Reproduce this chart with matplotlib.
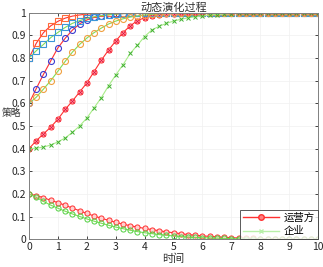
import numpy as np
import matplotlib.pyplot as plt
from matplotlib.lines import Line2D

plt.rcParams['font.family'] = ['Noto Sans CJK SC', 'DejaVu Sans']

# time grid (ode output points)
t = np.arange(0, 10.001, 0.25)

# operator side (red lines)
op_08 = [0.800, 0.865, 0.912, 0.942, 0.962, 0.976, 0.985, 0.990, 0.994, 0.996, 0.998, 0.999,
         1, 1, 1, 1, 1, 1, 1, 1, 1, 1, 1, 1, 1, 1, 1, 1, 1, 1, 1, 1, 1, 1, 1, 1, 1, 1, 1, 1, 1]
op_06 = [0.600, 0.665, 0.728, 0.787, 0.845, 0.887, 0.923, 0.951, 0.968, 0.979, 0.986, 0.991,
         0.994, 0.996, 0.998, 0.999,
         1, 1, 1, 1, 1, 1, 1, 1, 1, 1, 1, 1, 1, 1, 1, 1, 1, 1, 1, 1, 1, 1, 1, 1, 1]
op_04 = [0.400, 0.435, 0.465, 0.495, 0.530, 0.573, 0.610, 0.650, 0.690, 0.740, 0.790, 0.835,
         0.875, 0.912, 0.942, 0.965, 0.978, 0.986, 0.991, 0.994, 0.996, 0.997, 0.998, 0.999,
         1, 1, 1, 1, 1, 1, 1, 1, 1, 1, 1, 1, 1, 1, 1, 1, 1]
op_02 = [0.200, 0.193, 0.184, 0.172, 0.162, 0.150, 0.138, 0.126, 0.114, 0.103, 0.093, 0.084,
         0.075, 0.067, 0.060, 0.054, 0.048, 0.043, 0.038, 0.033, 0.029, 0.025, 0.021, 0.018,
         0.015, 0.013, 0.011, 0.009, 0.007, 0.006, 0.005, 0.004, 0.003, 0.002, 0.002, 0.001,
         0.001, 0, 0, 0, 0]

# enterprise side (green lines)
en_08 = [0.800, 0.832, 0.860, 0.890, 0.913, 0.935, 0.953, 0.965, 0.975, 0.982, 0.987, 0.991,
         0.994, 0.996, 0.997, 0.998, 0.999,
         1, 1, 1, 1, 1, 1, 1, 1, 1, 1, 1, 1, 1, 1, 1, 1, 1, 1, 1, 1, 1, 1, 1, 1]
en_06 = [0.600, 0.627, 0.663, 0.700, 0.742, 0.785, 0.826, 0.860, 0.888, 0.912, 0.932, 0.950,
         0.963, 0.973, 0.981, 0.986, 0.990, 0.993, 0.995, 0.997, 0.998, 0.999,
         1, 1, 1, 1, 1, 1, 1, 1, 1, 1, 1, 1, 1, 1, 1, 1, 1, 1, 1]
en_04 = [0.400, 0.402, 0.407, 0.416, 0.430, 0.447, 0.472, 0.500, 0.535, 0.580, 0.625, 0.677,
         0.725, 0.770, 0.820, 0.857, 0.895, 0.924, 0.940, 0.953, 0.963, 0.971, 0.977, 0.982,
         0.986, 0.990, 0.992, 0.994, 0.996, 0.997, 0.998, 0.999,
         1, 1, 1, 1, 1, 1, 1, 1, 1]
en_02 = [0.200, 0.185, 0.167, 0.151, 0.137, 0.124, 0.112, 0.101, 0.090, 0.080, 0.071, 0.062,
         0.054, 0.047, 0.040, 0.034, 0.029, 0.025, 0.021, 0.018, 0.015, 0.012, 0.010, 0.008,
         0.007, 0.006, 0.005, 0.004, 0.003, 0.002, 0.002, 0.001, 0.001,
         0, 0, 0, 0, 0, 0, 0, 0]

red = '#ff3030'
green = '#80dc58'

fig = plt.figure(figsize=(3.23, 2.67), dpi=100)
ax = fig.add_axes([0.0898, 0.1037, 0.895, 0.8487])

ms = 3.7
lw = 0.8
mw = 0.8
# red curves
ax.plot(t, op_08, '-', color=red, lw=lw, marker='s', ms=ms, mfc='none', mec='#ff6a3a', mew=mw)
ax.plot(t, op_06, '-', color=red, lw=lw, marker='o', ms=ms + 0.6, mfc='none', mec='#3b3bd0', mew=mw)
ax.plot(t, op_04, '-', color=red, lw=lw, marker='o', ms=ms, mfc='#ffb0b0', mec=red, mew=0.7)
ax.plot(t, op_04, 'none', marker='x', ms=ms - 1, mec='#e01040', mew=0.6)
ax.plot(t, op_02, '-', color=red, lw=lw, marker='o', ms=ms, mfc='#ffd0d0', mec=red, mew=0.7)
# green curves
ax.plot(t, en_08, '-', color=green, lw=lw, marker='s', ms=ms, mfc='none', mec='#3a96d8', mew=mw)
ax.plot(t, en_06, '-', color=green, lw=lw, marker='o', ms=ms + 0.6, mfc='none', mec='#f0a040', mew=mw)
ax.plot(t, en_04, '-', color='#a8ec88', lw=lw, marker='x', ms=ms - 0.3, mec='#40b030', mew=0.7)
ax.plot(t, en_02, '-', color=green, lw=lw, marker='o', ms=ms, mfc='none', mec='#50d040', mew=0.7)

ax.set_xlim(0, 10)
ax.set_ylim(0, 1)
ax.set_xticks(np.arange(0, 11, 1))
ax.set_yticks(np.arange(0, 1.01, 0.1))
ax.set_yticklabels(['0', '0.1', '0.2', '0.3', '0.4', '0.5', '0.6', '0.7', '0.8', '0.9', '1'])
ax.tick_params(direction='in', length=2.5, width=0.6, labelsize=7.5, colors='#262626', pad=2,
               top=True, right=True)
ax.grid(True, color='#f0f0f0', lw=0.5)
ax.set_axisbelow(True)
for s in ax.spines.values():
    s.set_color('#808080')
    s.set_linewidth(0.7)

ax.set_title('动态演化过程', fontsize=8, color='#303030', pad=1)
ax.set_xlabel('时间', fontsize=8, color='#303030', labelpad=1)
ax.set_ylabel('策略', fontsize=7, color='#303030', rotation=0, va='center', ha='center')
ax.yaxis.set_label_coords(-0.062, 0.558)

handles = [Line2D([], [], color=red, lw=1, marker='o', ms=4, mfc='#ff8080', mec=red),
           Line2D([], [], color='#b8f0a8', lw=1, marker='x', ms=3, mec='#b8f0a8')]
leg = ax.legend(handles, ['运营方', '企业'], loc='lower right', fontsize=7.5, frameon=True,
                fancybox=False, edgecolor='#303030', borderpad=0.3, handlelength=3.4,
                labelspacing=0.3, borderaxespad=0.0, handletextpad=0.5)
leg.get_frame().set_linewidth(0.7)

fig.savefig('out.png', dpi=100)
